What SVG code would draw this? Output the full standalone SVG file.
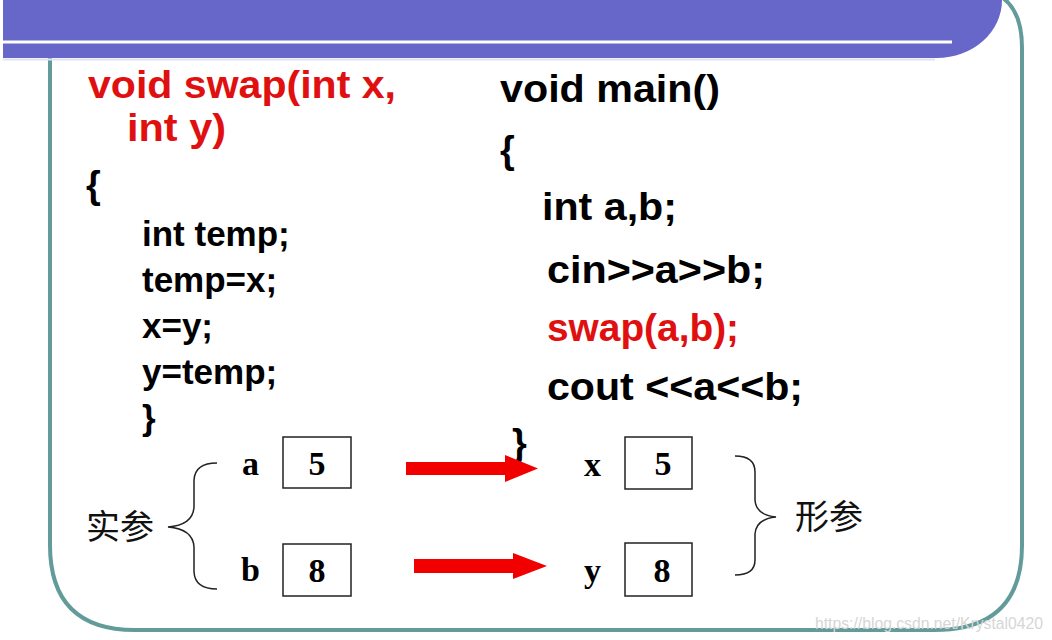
<svg xmlns="http://www.w3.org/2000/svg" width="1052" height="640" viewBox="0 0 1052 640">
<style>
.code{font-family:"Liberation Sans",Arial,sans-serif;font-weight:bold;font-size:38px;fill:#000}
.small{font-size:35px}
.red{fill:#e01010}
.ser{font-family:"Liberation Serif","Times New Roman",serif;font-weight:bold;font-size:34px;fill:#000}
.cjk{font-family:"Noto Sans CJK SC","Liberation Sans",sans-serif;font-size:34px;fill:#111}
.box{fill:#fff;stroke:#222;stroke-width:1.5}
.brace{fill:none;stroke:#222;stroke-width:1.5}
.arrow{fill:#f20000}
</style>
<rect width="1052" height="640" fill="#fff"/>
<g id="frame">
<path d="M50,58 V545 Q50,630 135,630 H935 Q1022,630 1022,545 V48 Q1022,12 1003,-2" fill="none" stroke="#639b9b" stroke-width="4"/>
</g>
<g id="banner">
<line x1="3" y1="59.5" x2="935" y2="59.5" stroke="#e2e2f4" stroke-width="2"/>
<path d="M3,0 H1002 A65,58 0 0 1 937,58 H3 Z" fill="#6767c9"/>
<line x1="3" y1="42" x2="952" y2="42" stroke="#fff" stroke-width="3"/>
</g>
<g id="swap-code">
<text class="code red" x="88" y="98" textLength="308" lengthAdjust="spacingAndGlyphs">void swap(int x,</text>
<text class="code red" x="127" y="141" textLength="99" lengthAdjust="spacingAndGlyphs">int y)</text>
<text class="code" x="86" y="198">{</text>
<text class="code small" x="142" y="246">int temp;</text>
<text class="code small" x="142" y="292">temp=x;</text>
<text class="code small" x="142" y="338">x=y;</text>
<text class="code small" x="142" y="384">y=temp;</text>
<text class="code small" x="142" y="430">}</text>
</g>
<g id="main-code">
<text class="code" x="500" y="102" textLength="220" lengthAdjust="spacingAndGlyphs">void main()</text>
<text class="code" x="500" y="163">{</text>
<text class="code" x="542" y="220" textLength="135" lengthAdjust="spacingAndGlyphs">int a,b;</text>
<text class="code" x="547" y="283" textLength="218" lengthAdjust="spacingAndGlyphs">cin&gt;&gt;a&gt;&gt;b;</text>
<text class="code red" x="547" y="341" textLength="192" lengthAdjust="spacingAndGlyphs">swap(a,b);</text>
<text class="code" x="547" y="400" textLength="256" lengthAdjust="spacingAndGlyphs">cout &lt;&lt;a&lt;&lt;b;</text>
<text class="code" x="512" y="456">}</text>
</g>
<g id="actual-params">
<path class="brace" d="M217,463 Q195,463 194,480 V507 Q193,525 168,527 Q193,529 194,547 V572 Q195,589 217,589"/>
<text class="cjk" x="86" y="539">实参</text>
<text class="ser" x="242" y="475">a</text>
<rect class="box" x="283" y="437" width="68" height="51"/>
<text class="ser" x="317" y="475" text-anchor="middle">5</text>
<text class="ser" x="241" y="581">b</text>
<rect class="box" x="283" y="544" width="68" height="52"/>
<text class="ser" x="317" y="582" text-anchor="middle">8</text>
</g>
<g id="formal-params">
<text class="ser" x="584" y="476">x</text>
<rect class="box" x="625" y="437" width="67" height="52"/>
<text class="ser" x="663" y="475" text-anchor="middle">5</text>
<text class="ser" x="584" y="582">y</text>
<rect class="box" x="625" y="543" width="67" height="53"/>
<text class="ser" x="662" y="582" text-anchor="middle">8</text>
<path class="brace" d="M735,456 Q755,456 755,472 V500 Q756,515 776,517 Q756,519 755,534 V560 Q755,575 735,575"/>
<text class="cjk" x="795" y="529">形参</text>
</g>
<g id="connectors">
<polygon class="arrow" points="406,462 505,462 505,455 538,468.5 505,482 505,475 406,475"/>
<polygon class="arrow" points="414,559 513,559 513,553 547,566 513,579 513,573 414,573"/>
</g>
<text x="815" y="629" font-family="Liberation Sans,Arial,sans-serif" font-size="16" textLength="228" lengthAdjust="spacingAndGlyphs" fill="#d6d6d6">https://blog.csdn.net/Krystal0420</text>
</svg>
